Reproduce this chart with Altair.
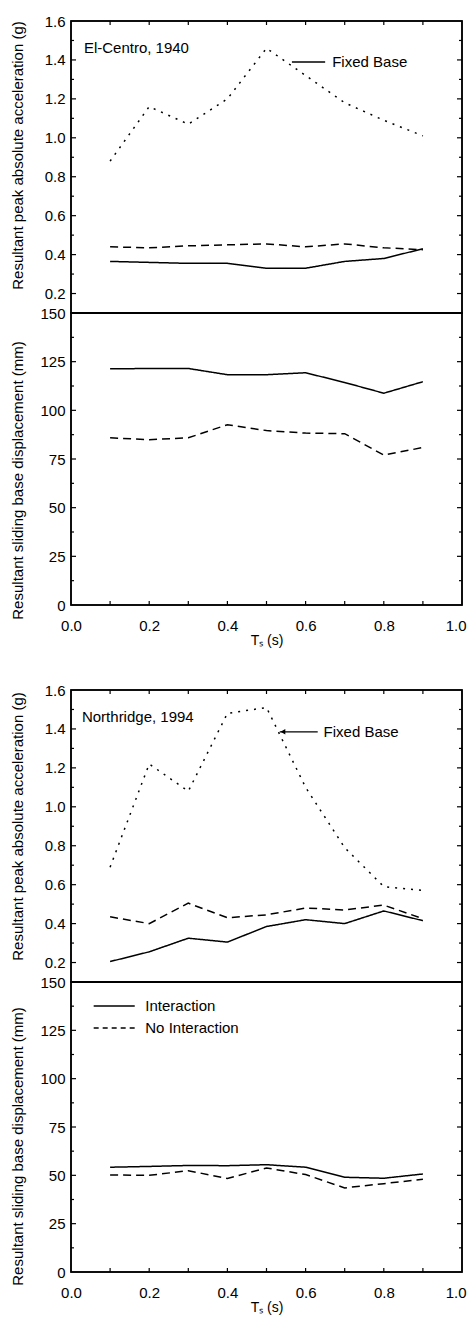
import altair as alt
import pandas as pd

FONT = "Liberation Sans"

ts = [0.1, 0.2, 0.3, 0.4, 0.5, 0.6, 0.7, 0.8, 0.9]

# El-Centro, 1940
ec_acc_fixed = [0.88, 1.16, 1.07, 1.20, 1.46, 1.32, 1.18, 1.09, 1.01]
ec_acc_inter = [0.365, 0.36, 0.355, 0.355, 0.33, 0.33, 0.365, 0.38, 0.43]
ec_acc_nointer = [0.44, 0.435, 0.445, 0.45, 0.455, 0.44, 0.455, 0.435, 0.425]
ec_disp_inter = [121.3, 121.5, 121.5, 118.3, 118.3, 119.3, 114.3, 108.8, 114.7]
ec_disp_nointer = [85.9, 84.9, 85.9, 92.6, 89.6, 88.3, 88.0, 77.0, 80.9]

# Northridge, 1994
nr_acc_fixed = [0.69, 1.22, 1.08, 1.48, 1.51, 1.10, 0.79, 0.59, 0.57]
nr_acc_inter = [0.205, 0.255, 0.325, 0.305, 0.385, 0.42, 0.40, 0.465, 0.415]
nr_acc_nointer = [0.435, 0.40, 0.505, 0.43, 0.445, 0.48, 0.47, 0.495, 0.425]
nr_disp_inter = [54.2, 54.6, 55.1, 55.0, 55.5, 54.2, 49.0, 48.5, 50.7]
nr_disp_nointer = [50.2, 50.0, 52.4, 48.4, 53.8, 50.4, 43.5, 45.7, 48.0]

series_names = ["Interaction", "No Interaction", "Fixed Base"]
series_dash = [[1, 0], [8, 5], [2, 6]]

acc_label_vals = [0.2, 0.4, 0.6, 0.8, 1.0, 1.2, 1.4, 1.6]
acc_major_ticks = [0.2, 0.4, 0.6, 0.8, 1.0, 1.2, 1.4]
acc_minor_vals = [0.3, 0.5, 0.7, 0.9, 1.1, 1.3, 1.5]
disp_label_vals = [0, 25, 50, 75, 100, 125, 150]
disp_major_ticks = [25, 50, 75, 100, 125]
disp_minor_vals = [12.5, 37.5, 62.5, 87.5, 112.5, 137.5]
x_label_vals = [0.0, 0.2, 0.4, 0.6, 0.8, 1.0]
x_tick_vals = [0.1, 0.2, 0.3, 0.4, 0.5, 0.6, 0.7, 0.8, 0.9]

acc_title = "Resultant peak absolute acceleration (g)"
disp_title = "Resultant sliding base displacement (mm)"
x_title = "Tₛ (s)"

# annotation positions (data coordinates)
ec_label = ("El-Centro, 1940", 0.033, 1.461)
ec_fixed_line = (0.565, 0.650, 1.389)
ec_fixed_text = ("Fixed Base", 0.668, 1.389)
nr_label = ("Northridge, 1994", 0.028, 1.462)
nr_fixed_line = (0.534, 0.631, 1.385)
nr_fixed_text = ("Fixed Base", 0.646, 1.385)
legend_x = (0.058, 0.163, 0.19)
legend_y = [137.6, 126.2]

W = 391
H_ACC = 292
H_DISP = 292
H_DISP2 = 290

xscale = alt.Scale(domain=[0, 1], nice=False, zero=False)
acc_scale = alt.Scale(domain=[0.1, 1.6], nice=False, zero=False)
disp_scale = alt.Scale(domain=[0, 150], nice=False, zero=False)
dash_scale = alt.Scale(domain=series_names, range=series_dash)

X_HIDDEN = alt.Axis(labels=False, title=" ", labelPadding=0, titlePadding=0)
X_BOTTOM = alt.Axis(
    values=x_label_vals, format=".1f", title=x_title, labelFlush=False,
    labelAlign={"condition": {"test": "datum.value >= 0.99", "value": "right"}, "value": "center"},
    labelOffset={"condition": {"test": "datum.value >= 0.99", "value": 4}, "value": 0},
)


def y_axis(values, fmt, title, title_y):
    return alt.Axis(values=values, format=fmt, title=title, titleX=-46, titleY=title_y)


def long_df(series):
    rows = []
    for name, vals in series:
        for t, v in zip(ts, vals):
            rows.append({"ts": t, "v": v, "s": name})
    return pd.DataFrame(rows)


def frame(height):
    return alt.Chart(pd.DataFrame({"f": [0]})).mark_rect(
        fill="transparent", stroke="black", strokeWidth=1.5).encode(
        x=alt.value(0), x2=alt.value(W), y=alt.value(0), y2=alt.value(height))


def y_ticks(vals, scale, yax, length):
    df = pd.DataFrame({"v": vals})
    base = alt.Chart(df).mark_rule(color="black", strokeWidth=1.2)
    left = base.encode(y=alt.Y("v:Q", scale=scale, axis=yax),
                       x=alt.value(0), x2=alt.value(length))
    right = base.encode(y=alt.Y("v:Q", scale=scale, axis=yax),
                        x=alt.value(W - length), x2=alt.value(W))
    return [left, right]


def x_ticks(top, height, xax, length=4):
    df = pd.DataFrame({"v": x_tick_vals})
    base = alt.Chart(df).mark_rule(color="black", strokeWidth=1.2)
    if top:
        return base.encode(x=alt.X("v:Q", scale=xscale, axis=xax),
                           y=alt.value(0), y2=alt.value(length))
    return base.encode(x=alt.X("v:Q", scale=xscale, axis=xax),
                       y=alt.value(height - length), y2=alt.value(height))


def text_layer(txt, x, y, scale, xax, yax, size=15):
    df = pd.DataFrame({"x": [x], "y": [y], "t": [txt]})
    return alt.Chart(df).mark_text(align="left", baseline="middle", font=FONT,
                                   fontSize=size, color="black").encode(
        x=alt.X("x:Q", scale=xscale, axis=xax),
        y=alt.Y("y:Q", scale=scale, axis=yax),
        text="t:N")


def seg_layer(x1, x2, y, scale, xax, yax, dash=None):
    df = pd.DataFrame({"x": [x1], "x2": [x2], "y": [y]})
    kw = dict(color="black", strokeWidth=1.4)
    if dash is not None:
        kw["strokeDash"] = dash
    return alt.Chart(df).mark_rule(**kw).encode(
        x=alt.X("x:Q", scale=xscale, axis=xax), x2="x2:Q",
        y=alt.Y("y:Q", scale=scale, axis=yax))


def acc_panel(fixed, inter, nointer, label, fline, ftext, arrow, title_y):
    yax = y_axis(acc_label_vals, ".1f", acc_title, title_y)
    xax = X_HIDDEN
    df = long_df([("Fixed Base", fixed), ("Interaction", inter),
                  ("No Interaction", nointer)])
    lines = alt.Chart(df).mark_line(color="black", strokeWidth=1.5).encode(
        x=alt.X("ts:Q", scale=xscale, axis=xax),
        y=alt.Y("v:Q", scale=acc_scale, axis=yax),
        strokeDash=alt.StrokeDash("s:N", scale=dash_scale, legend=None),
        detail="s:N",
    )
    layers = [lines, frame(H_ACC)]
    layers += y_ticks(acc_major_ticks, acc_scale, yax, 5)
    layers += y_ticks(acc_minor_vals, acc_scale, yax, 3)
    layers.append(x_ticks(True, H_ACC, xax))
    layers.append(text_layer(label[0], label[1], label[2], acc_scale, xax, yax))
    layers.append(seg_layer(fline[0], fline[1], fline[2], acc_scale, xax, yax))
    layers.append(text_layer(ftext[0], ftext[1], ftext[2], acc_scale, xax, yax))
    if arrow:
        adf = pd.DataFrame({"x": [fline[0] + 0.008], "y": [fline[2]]})
        layers.append(alt.Chart(adf).mark_point(shape="triangle-left", filled=True,
                                                 color="black", size=30, opacity=1).encode(
            x=alt.X("x:Q", scale=xscale, axis=xax),
            y=alt.Y("y:Q", scale=acc_scale, axis=yax)))
    return alt.layer(*layers).properties(width=W, height=H_ACC)


def disp_panel(inter, nointer, legend, title_y, height):
    yax = y_axis(disp_label_vals, "d", disp_title, title_y)
    xax = X_BOTTOM
    df = long_df([("Interaction", inter), ("No Interaction", nointer)])
    lines = alt.Chart(df).mark_line(color="black", strokeWidth=1.5).encode(
        x=alt.X("ts:Q", scale=xscale, axis=xax),
        y=alt.Y("v:Q", scale=disp_scale, axis=yax),
        strokeDash=alt.StrokeDash("s:N", scale=dash_scale, legend=None),
        detail="s:N",
    )
    layers = [lines, frame(height)]
    layers += y_ticks(disp_major_ticks, disp_scale, yax, 5)
    layers += y_ticks(disp_minor_vals, disp_scale, yax, 3)
    layers.append(x_ticks(False, height, xax))
    if legend:
        layers.append(seg_layer(legend_x[0], legend_x[1], legend_y[0], disp_scale, xax, yax))
        layers.append(seg_layer(legend_x[0], legend_x[1], legend_y[1], disp_scale, xax, yax,
                                dash=[5, 4]))
        layers.append(text_layer("Interaction", legend_x[2], legend_y[0], disp_scale, xax, yax))
        layers.append(text_layer("No Interaction", legend_x[2], legend_y[1], disp_scale, xax, yax))
    return alt.layer(*layers).properties(width=W, height=height)


spacer = alt.Chart(pd.DataFrame({"a": [0]})).mark_point(opacity=0).properties(
    width=W, height=85,
    view=alt.ViewBackground(stroke="transparent", fill="transparent"))

acc1 = acc_panel(ec_acc_fixed, ec_acc_inter, ec_acc_nointer, ec_label,
                 ec_fixed_line, ec_fixed_text, False, 134)
disp1 = disp_panel(ec_disp_inter, ec_disp_nointer, False, 167, H_DISP)
acc2 = acc_panel(nr_acc_fixed, nr_acc_inter, nr_acc_nointer, nr_label,
                 nr_fixed_line, nr_fixed_text, True, 136)
disp2 = disp_panel(nr_disp_inter, nr_disp_nointer, True, 164, H_DISP2)

chart = alt.vconcat(acc1, disp1, spacer, acc2, disp2, spacing=0, bounds="flush").properties(
    padding={"left": 9, "top": 13, "right": 0, "bottom": 0}
).configure_view(
    stroke="black", strokeWidth=1.5
).configure_axis(
    ticks=False, domain=False, grid=False,
    labelFont=FONT, labelFontSize=15, labelColor="black", labelOverlap=False,
    titleFont=FONT, titleFontSize=15, titleFontWeight="normal", titleColor="black",
).configure_axisLeft(
    labelPadding=6
).configure_axisBottom(
    labelPadding=13, titlePadding=0, titleFontSize=14
)

chart.save("out.html", embed_options={"renderer": "svg", "actions": False})
